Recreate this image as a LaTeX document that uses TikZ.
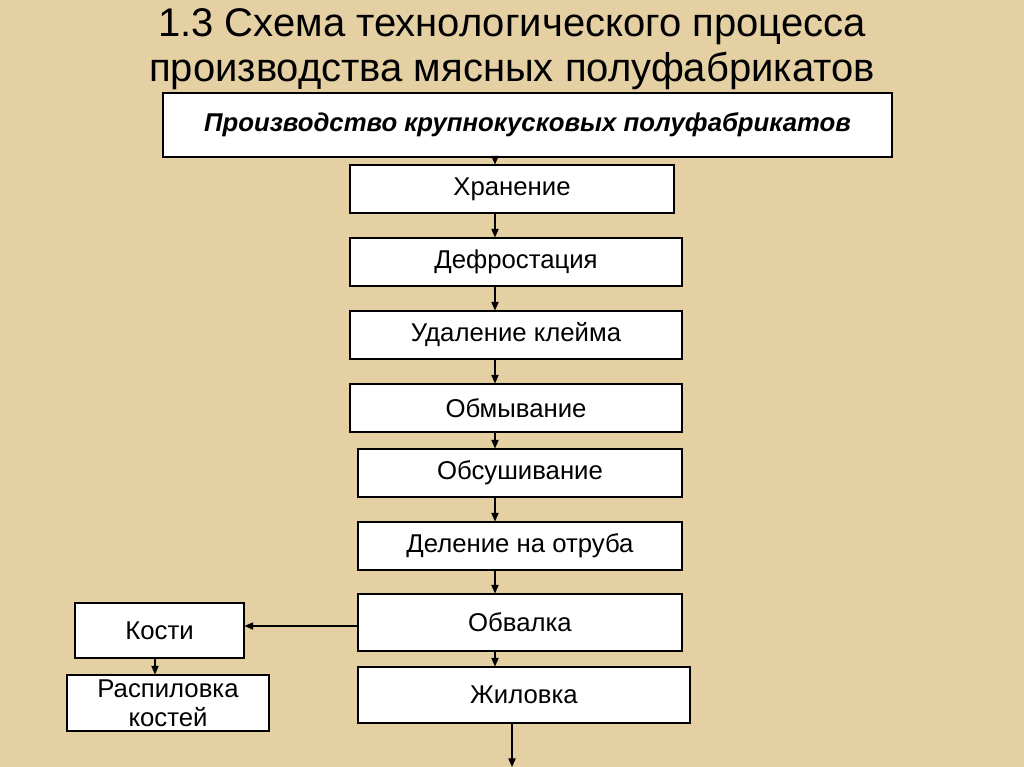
\documentclass[tikz,border=0pt]{standalone}
\usepackage{fontspec}
\setmainfont{Liberation Sans}
\usetikzlibrary{arrows.meta}
\definecolor{bg}{RGB}{228,208,162}
\tikzset{box/.style={draw=black,fill=white,line width=0.8pt,inner sep=0pt,font=\fontsize{19.3}{22}\selectfont},
arr/.style={-{Triangle[length=6.5pt,width=5.5pt]},line width=0.8pt}}
\newcommand{\bx}[6]{\node[box,minimum width={(#3-#2)*0.75pt},minimum height={(#5-#4)*0.75pt},align=center] (#1) at ({(#2+#3)/2},{(#4+#5)/2+2}) {#6};}
\begin{document}
\begin{tikzpicture}[x=0.75pt,y=-0.75pt]
\fill[bg] (0,0) rectangle (1024,767);
\useasboundingbox (0,0) rectangle (1024,767);
\node[align=center,font=\fontsize{30}{34}\selectfont] (title) at (512,49) {1.3 Схема технологического процесса\\производства мясных полуфабрикатов};
\bx{top}{163}{892}{91}{155}{\bfseries\itshape Производство крупнокусковых полуфабрикатов}
\bx{b1}{350}{674}{163}{211}{Хранение}
\bx{b2}{350}{682}{236}{284}{Дефростация}
\bx{b3}{350}{682}{309}{357}{Удаление клейма}
\bx{b4}{350}{682}{382}{430}{Обмывание}
\bx{b5}{358}{682}{447}{495}{Обсушивание}
\bx{b6}{358}{682}{520}{568}{Деление на отруба}
\bx{b7}{358}{682}{592}{649}{Обвалка}
\bx{b8}{358}{690}{665}{721}{Жиловка}
\bx{k1}{75}{244}{601}{656}{Кости}
\bx{k2}{67}{269}{673}{729}{Распиловка\\костей}
\coordinate (end) at (512,767);
\foreach \a/\b in {top/b1,b1/b2,b2/b3,b3/b4,b4/b5,b5/b6,b6/b7,b7/b8}
  \draw[arr] (\a.south -| 495,0) -- (\b.north -| 495,0);
\draw[arr] (b8.south -| end) -- (end);
\draw[arr] (b7.west |- 0,626) -- (k1.east |- 0,626);
\draw[arr] (k1.south -| 155,0) -- (k2.north -| 155,0);
\end{tikzpicture}
\end{document}
